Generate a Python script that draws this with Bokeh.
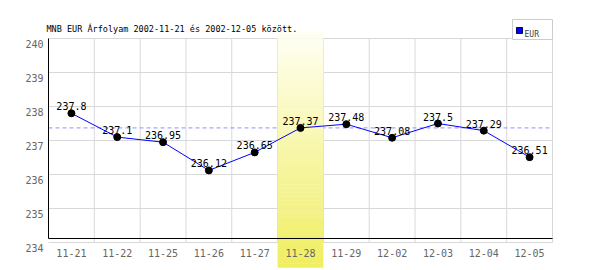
from bokeh.plotting import figure
from bokeh.models import Range1d
from bokeh.core.properties import value
from bokeh.embed import file_html
from bokeh.resources import INLINE

# ---- data ----
dates = ["11-21", "11-22", "11-25", "11-26", "11-27", "11-28",
         "11-29", "12-02", "12-03", "12-04", "12-05"]
rates = [237.8, 237.1, 236.95, 236.12, 236.65, 237.37,
         237.48, 237.08, 237.5, 237.29, 236.51]
rate_labels = ["237.8", "237.1", "236.95", "236.12", "236.65", "237.37",
               "237.48", "237.08", "237.5", "237.29", "236.51"]
y_ticks = [234, 235, 236, 237, 238, 239, 240]
selected_date = "11-28"
series_name = "EUR"
title_text = "MNB EUR Árfolyam 2002-11-21 és 2002-12-05 között."

# ---- layout (pixel geometry) ----
W, H = 600, 270
PLOT_LEFT, PLOT_RIGHT = 48, 552
STEP = (PLOT_RIGHT - PLOT_LEFT) / len(dates)
Y_TOP_PX, PPU = 38, 34
Y_MAX = max(y_ticks)


def dx(px):
    return (px - PLOT_LEFT) / STEP - 0.5


def dy(py):
    return Y_MAX - (py - Y_TOP_PX) / PPU


MONO = value("DejaVu Sans Mono")
idx = list(range(len(dates)))
sel = dates.index(selected_date)

p = figure(width=W, height=H, x_range=Range1d(dx(0), dx(W)),
           y_range=Range1d(dy(H), dy(0)), output_backend="svg",
           toolbar_location=None, min_border=0, x_axis_type=None,
           y_axis_type=None, outline_line_color=None,
           background_fill_color="white", border_fill_color="white")

GRID = "#d8d8d8"
n = len(dates)
# horizontal grid
p.segment(x0=[-0.5] * len(y_ticks), x1=[n - 0.5] * len(y_ticks),
          y0=y_ticks, y1=y_ticks, line_color=GRID, line_width=1)
# vertical grid at category boundaries
p.segment(x0=[i + 0.5 for i in idx], x1=[i + 0.5 for i in idx],
          y0=[min(y_ticks)] * n, y1=[max(y_ticks)] * n,
          line_color=GRID, line_width=1)

# reference dashed line at selected day's value
p.segment(x0=[-0.5], x1=[n - 0.5], y0=[rates[sel]], y1=[rates[sel]],
          line_color="#9090ff", line_dash="4 3", line_width=1)

# highlight band with vertical gradient
top_px, bot_px = 30, 267
slices = 60
c_top = (255, 255, 245)
c_bot = (240, 238, 96)
lefts, rights, tops, bots, cols = [], [], [], [], []
for k in range(slices):
    t0 = top_px + (bot_px - top_px) * k / slices
    t1 = top_px + (bot_px - top_px) * (k + 1) / slices
    f = (k + 0.5) / slices
    c = tuple(int(round(a + (b - a) * f)) for a, b in zip(c_top, c_bot))
    lefts.append(sel - 0.5)
    rights.append(sel + 0.5)
    tops.append(dy(t0))
    bots.append(dy(t1 + 0.3))
    cols.append("#%02x%02x%02x" % c)
p.quad(left=lefts, right=rights, top=tops, bottom=bots,
       fill_color=cols, line_color=None)

# black axis lines
p.segment(x0=[-0.5], x1=[-0.5], y0=[max(y_ticks)], y1=[dy(238)],
          line_color="black", line_width=1)
p.segment(x0=[-0.5], x1=[n - 0.5], y0=[dy(238)], y1=[dy(238)],
          line_color="black", line_width=1)

# series
p.line(idx, rates, line_color="#0000ff", line_width=1)
p.scatter(idx, rates, size=7, fill_color="black", line_color="black")
p.text(idx, rates, text=rate_labels, text_align="center",
       text_baseline="alphabetic", y_offset=-7, text_font=MONO,
       text_font_size="10px", text_color="black")

# tick labels
p.text(idx, [dy(252)] * n, text=dates, text_align="center",
       text_baseline="alphabetic", text_font=MONO, text_font_size="10px",
       text_color="#666666")
p.text([dx(43)] * len(y_ticks), y_ticks, text=[str(t) for t in y_ticks],
       text_align="right", text_baseline="alphabetic", y_offset=5,
       text_font=MONO, text_font_size="10px", text_color="#666666")

# title
p.text([dx(46)], [dy(28)], text=[title_text], text_align="left",
       text_baseline="alphabetic", text_font=MONO, text_font_size="8.5px",
       text_color="black")

# legend
p.quad(left=[dx(512)], right=[dx(552)], top=[dy(19)], bottom=[dy(39)],
       fill_color="white", line_color="#cccccc")
p.quad(left=[dx(516)], right=[dx(522)], top=[dy(27)], bottom=[dy(33)],
       fill_color="#0000ff", line_color="#000066")
p.text([dx(524)], [dy(33.5)], text=[series_name], text_align="left",
       text_baseline="alphabetic", text_font=MONO, text_font_size="8px",
       text_color="#444444")

open("out.html", "w").write(file_html(p, INLINE))
